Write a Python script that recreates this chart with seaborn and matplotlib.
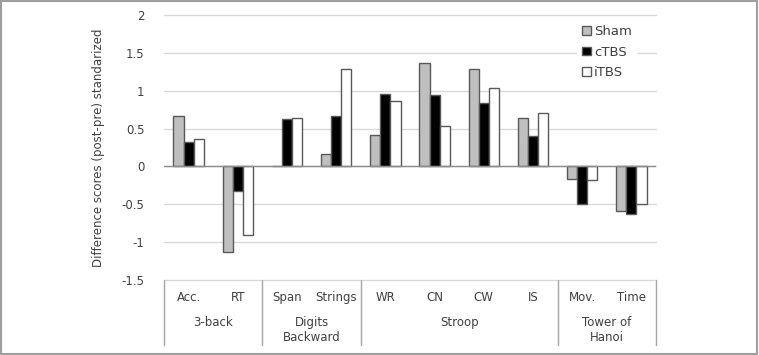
import pandas as pd
import seaborn as sns
import matplotlib.pyplot as plt
from matplotlib.patches import Rectangle

# values
measures = ['Acc.', 'RT', 'Span', 'Strings', 'WR', 'CN', 'CW', 'IS', 'Mov.', 'Time']
sham = [0.66, -1.13, 0.0, 0.16, 0.41, 1.36, 1.29, 0.64, -0.16, -0.59]
ctbs = [0.32, -0.33, 0.62, 0.66, 0.96, 0.94, 0.84, 0.40, -0.50, -0.63]
itbs = [0.36, -0.91, 0.64, 1.29, 0.87, 0.53, 1.03, 0.70, -0.18, -0.49]

tests = ['3-back', 'Digits\nBackward', 'Stroop', 'Tower of\nHanoi']
test_sizes = [2, 2, 4, 2]

conditions = ['Sham', 'cTBS', 'iTBS']
colors = ['#bfbfbf', '#000000', '#ffffff']

df = pd.DataFrame({
    'measure': measures * 3,
    'value': sham + ctbs + itbs,
    'condition': [c for c in conditions for _ in measures],
})

sns.set_style('white')
plt.rcParams['font.family'] = ['DejaVu Sans']

fig = plt.figure(figsize=(7.59, 3.55), dpi=100)
ax = fig.add_axes([164 / 759, 1 - 280 / 355, 492 / 759, 265 / 355])

sns.barplot(data=df, x='measure', y='value', hue='condition', order=measures,
            hue_order=conditions, palette=colors, width=0.62, gap=0,
            edgecolor='#595959', linewidth=1, ax=ax, zorder=3)

ax.set_ylim(-1.5, 2)
ax.set_xlim(-0.5, len(measures) - 0.5)
ax.set_yticks([-1.5, -1, -0.5, 0, 0.5, 1, 1.5, 2])
ax.set_yticklabels(['-1.5', '-1', '-0.5', '0', '0.5', '1', '1.5', '2'])
ax.tick_params(axis='y', length=0, labelsize=8.5, colors='#404040', pad=14)
ax.set_xticks([])
ax.set_xlabel('')
ax.set_ylabel('Difference scores (post-pre) standarized', fontsize=8.5,
              color='#404040', labelpad=12)
ax.grid(axis='y', color='#d9d9d9', linewidth=1)
for gl in ax.get_ygridlines():
    gl.set_clip_on(False)
ax.set_axisbelow(True)
for s in ax.spines.values():
    s.set_visible(False)
ax.axhline(0, color='#8c8c8c', linewidth=1, zorder=4)

# category table under the plot
trans = ax.get_xaxis_transform()
edges = [-0.5]
for n in test_sizes:
    edges.append(edges[-1] + n)
for e in edges:
    ax.plot([e, e], [0, -0.245], transform=trans, color='#a6a6a6',
            linewidth=1, clip_on=False)
for i, m in enumerate(measures):
    ax.text(i, -0.065, m, transform=trans, ha='center', va='center',
            fontsize=8.5, color='#404040')
for k, t in enumerate(tests):
    mid = (edges[k] + edges[k + 1]) / 2
    ax.text(mid, -0.135, t, transform=trans, ha='center', va='top',
            fontsize=8.5, color='#404040', linespacing=1.25)

leg = ax.legend(loc='upper right', bbox_to_anchor=(0.975, 1.006), frameon=True,
                fontsize=9.5, handlelength=0.65, handleheight=0.65,
                handletextpad=0.25, labelspacing=0.55, borderpad=0.4)
leg.get_frame().set_facecolor('white')
leg.get_frame().set_edgecolor('none')
leg.get_frame().set_alpha(1)
leg.set_zorder(5)
for txt in leg.get_texts():
    txt.set_color('#404040')

fig.patches.append(Rectangle((0.001, 0.002), 0.996, 0.995, transform=fig.transFigure,
                             fill=False, edgecolor='#9e9e9e', linewidth=1.5))

fig.savefig('out.png', dpi=100)
